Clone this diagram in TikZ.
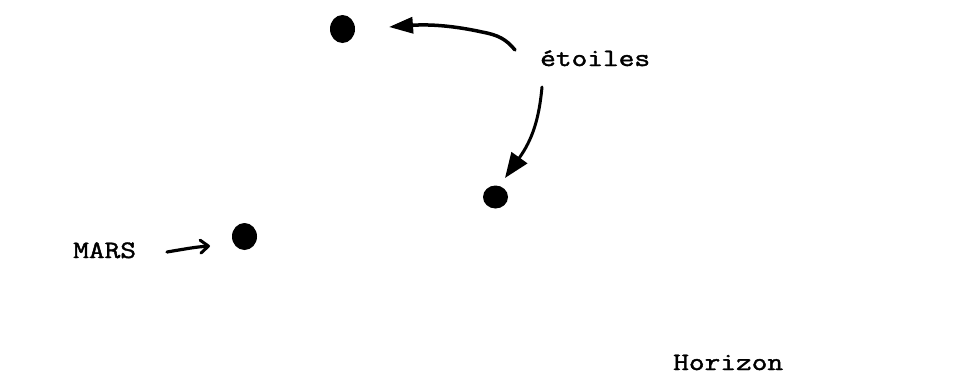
\documentclass[tikz,border=0pt]{standalone}
\usepackage{fontspec}
\usepackage{graphicx}
\usetikzlibrary{arrows.meta,shapes.geometric}
\newfontfamily\typewfont[FakeBold=1.5]{Latin Modern Mono}
\newcommand{\typewtext}[1]{\scalebox{1.22}[1]{#1}}
\tikzset{
  dotmark/.style={ellipse,fill=black,draw=none,inner sep=0pt},
  lbl/.style={anchor=base west,inner sep=0pt,font=\typewfont\fontsize{25}{30}\selectfont},
  bigarrow/.style={line width=3.5pt,line cap=round,-{Triangle[length=24pt,width=16pt]}},
  smallarrow/.style={line width=3.2pt,line cap=round,-{Straight Barb[length=8pt,width=13pt,line width=3pt,round]}}
}
\begin{document}
\begin{tikzpicture}[x=1pt,y=-1pt]
\useasboundingbox (0,0) rectangle (953,375);
% stars and Mars
\node[dotmark,minimum width=25pt,minimum height=28pt] (s1) at (342.5,29) {};
\node[dotmark,minimum width=25pt,minimum height=23pt] (s2) at (495.5,197) {};
\node[dotmark,minimum width=25pt,minimum height=27pt] (mars) at (244.5,236.5) {};
% labels
\node[lbl] (etoiles) at (540,66) {\typewtext{étoiles}};
\node[lbl] (marslbl) at (73,258) {\typewtext{MARS}};
\node[lbl] (horizon) at (673,370) {\typewtext{Horizon}};
% connector end points
\coordinate (a1s) at (515,50);
\coordinate (a1e) at (389,27);
\coordinate (a2s) at (542,87);
\coordinate (a2e) at (505,178);
\coordinate (a3s) at (167,252);
\coordinate (a3e) at (210,246);
% arrows
\draw[bigarrow] (a1s) .. controls (506,39) and (498,35) .. (482,32)
                .. controls (455,26) and (430,24) .. (a1e);
\draw[line width=3pt,line cap=round,-{Triangle[length=25pt,width=19pt]}]
      (a2s) .. controls (539,120) and (532,140) .. (a2e);
\draw[smallarrow] (a3s) .. controls (185,249) and (195,247) .. (a3e);
\end{tikzpicture}
\end{document}
